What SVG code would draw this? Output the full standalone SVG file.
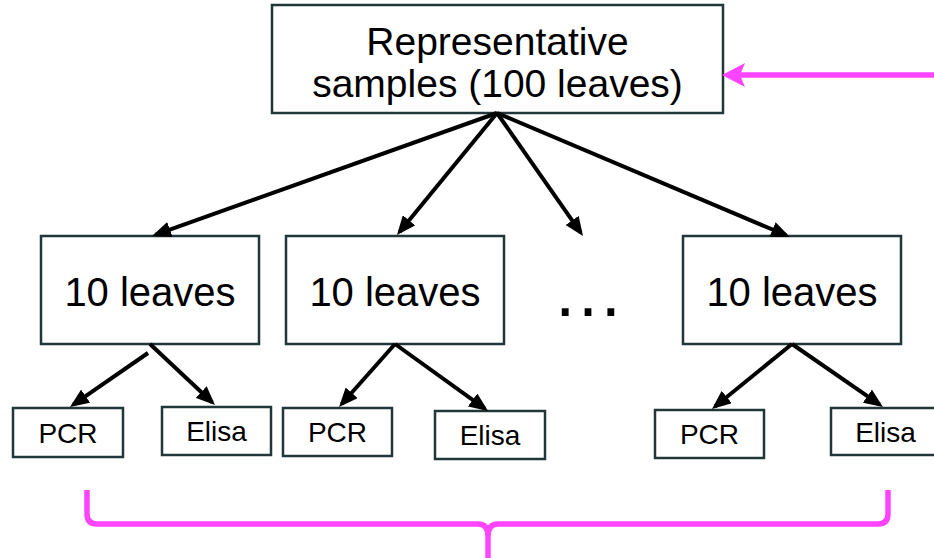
<svg xmlns="http://www.w3.org/2000/svg" width="934" height="558" viewBox="0 0 934 558">
<style>
.box{fill:#fff;stroke:#213638;stroke-width:2.5}
.t{font-family:"Liberation Sans",Arial,sans-serif;fill:#000;text-anchor:middle}
.big{font-size:40px}
.topt{font-size:39px}
.small{font-size:28px}
.con line{stroke:#000;stroke-width:4}
.mag{stroke:#ff44ff;fill:none;stroke-width:5.5}
</style>
<defs>
<marker id="ah" viewBox="0 0 19 16" refX="15" refY="8" markerWidth="19" markerHeight="16" markerUnits="userSpaceOnUse" orient="auto">
<path d="M0,0 L19,8 L0,16 z" fill="#000"/>
</marker>
</defs>
<rect width="934" height="558" fill="#fff"/>
<g id="top">
<rect class="box" x="272" y="5" width="451" height="108"/>
<text class="t topt" x="497.5" y="55">Representative</text>
<text class="t topt" x="497.5" y="97">samples (100 leaves)</text>
</g>
<g id="leaves1">
<rect class="box" x="41" y="236" width="218" height="108"/>
<text class="t big" x="150" y="306">10 leaves</text>
</g>
<g id="leaves2">
<rect class="box" x="286" y="236" width="218" height="108"/>
<text class="t big" x="395" y="306">10 leaves</text>
</g>
<g id="ellipsis">
<text class="t" style="font-size:72px" x="588" y="316">…</text>
</g>
<g id="leaves3">
<rect class="box" x="683" y="236" width="218" height="108"/>
<text class="t big" x="792" y="306">10 leaves</text>
</g>
<g id="pcr1">
<rect class="box" x="13" y="408" width="110" height="49"/>
<text class="t small" x="68" y="443">PCR</text>
</g>
<g id="elisa1">
<rect class="box" x="162" y="407" width="109" height="48"/>
<text class="t small" x="216.5" y="441">Elisa</text>
</g>
<g id="pcr2">
<rect class="box" x="283" y="408" width="109" height="48"/>
<text class="t small" x="337.5" y="442">PCR</text>
</g>
<g id="elisa2">
<rect class="box" x="435" y="411" width="110" height="48"/>
<text class="t small" x="490" y="445">Elisa</text>
</g>
<g id="pcr3">
<rect class="box" x="655" y="410" width="109" height="48"/>
<text class="t small" x="709.5" y="444">PCR</text>
</g>
<g id="elisa3">
<rect class="box" x="831" y="408" width="109" height="47"/>
<text class="t small" x="885.5" y="442">Elisa</text>
</g>
<g id="connectors" class="con">
<line x1="497" y1="113" x2="155.8" y2="234.6" marker-end="url(#ah)"/>
<line x1="497" y1="113" x2="399.5" y2="231.9" marker-end="url(#ah)"/>
<line x1="497" y1="113" x2="580.7" y2="232.7" marker-end="url(#ah)"/>
<line x1="497" y1="113" x2="786.3" y2="235.4" marker-end="url(#ah)"/>
<line x1="148" y1="353" x2="73.3" y2="404.7" marker-end="url(#ah)"/>
<line x1="150" y1="344" x2="212.1" y2="402.3" marker-end="url(#ah)"/>
<line x1="395" y1="344" x2="341.7" y2="404" marker-end="url(#ah)"/>
<line x1="395" y1="344" x2="484.8" y2="408.7" marker-end="url(#ah)"/>
<line x1="792" y1="344" x2="715.1" y2="406.5" marker-end="url(#ah)"/>
<line x1="792" y1="344" x2="879.7" y2="404.7" marker-end="url(#ah)"/>
<line x1="934" y1="75" x2="738" y2="75" style="stroke:#ff44ff;stroke-width:5.5"/>
<polygon points="722,75 745,63 740,75 745,87" fill="#ff44ff"/>
</g>
<g id="brace">
<path class="mag" d="M87,490 V514 Q87,524 97,524 H478 Q488,524 488,536 V558 M888,490 V514 Q888,524 878,524 H498 Q488,524 488,536"/>
</g>
</svg>
